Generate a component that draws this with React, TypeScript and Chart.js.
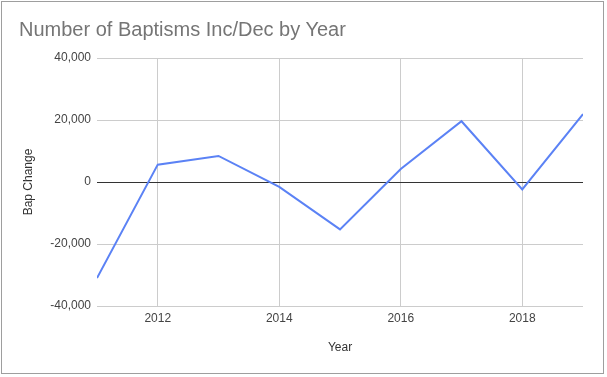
import React, { useEffect, useRef } from "react";
import { Chart, registerables } from "chart.js";

Chart.register(...registerables);

const years = [2011, 2012, 2013, 2014, 2015, 2016, 2017, 2018, 2019];
const bapChange = [-31000, 5600, 8400, -1600, -15300, 4200, 19600, -2400, 21900];
const xTicks = [2012, 2014, 2016, 2018];
const yTicks = [-40000, -20000, 0, 20000, 40000];

const FONT = "'Liberation Sans', Arial, sans-serif";

export default function App() {
  const ref = useRef<HTMLCanvasElement | null>(null);

  useEffect(() => {
    if (!ref.current) return;
    const chart = new Chart(ref.current, {
      type: "line",
      data: {
        datasets: [
          {
            label: "Bap Change",
            data: years.map((y, i) => ({ x: y, y: bapChange[i] })),
            borderColor: "#5b82f5",
            backgroundColor: "#5b82f5",
            borderWidth: 2,
            pointRadius: 0,
            tension: 0,
          },
        ],
      },
      options: {
        animation: false,
        responsive: false,
        maintainAspectRatio: false,
        layout: { padding: { left: 0, top: 58, right: 24, bottom: 0 } },
        plugins: {
          legend: { display: false },
          tooltip: { enabled: false },
          title: { display: false },
        },
        scales: {
          x: {
            type: "linear",
            min: 2011,
            max: 2019,
            afterBuildTicks: (scale: any) => {
              scale.ticks = xTicks.map((v) => ({ value: v }));
            },
            afterFit: (scale: any) => {
              scale.height = 71;
            },
            grid: { color: "#cccccc", drawTicks: false },
            border: { display: false },
            ticks: {
              padding: 5,
              color: "#444444",
              font: { family: FONT, size: 12 },
              callback: (v: any) => String(v),
              maxRotation: 0,
            },
            title: {
              display: true,
              text: "Year",
              color: "#333333",
              font: { family: FONT, size: 12 },
              padding: { top: 4, bottom: 22 },
            },
          },
          y: {
            type: "linear",
            min: -40000,
            max: 40000,
            afterBuildTicks: (scale: any) => {
              scale.ticks = yTicks.map((v) => ({ value: v }));
            },
            afterFit: (scale: any) => {
              scale.width = 97;
            },
            grid: {
              color: (ctx: any) => (ctx.tick && ctx.tick.value === 0 ? "#333333" : "#cccccc"),
              drawTicks: false,
            },
            border: { display: false },
            ticks: {
              padding: 6,
              color: "#444444",
              font: { family: FONT, size: 12 },
              callback: (v: any) => Number(v).toLocaleString("en-US"),
            },
            title: {
              display: true,
              text: "Bap Change",
              color: "#333333",
              font: { family: FONT, size: 12 },
              padding: { top: 21, bottom: 4 },
            },
          },
        },
      },
    });
    return () => chart.destroy();
  }, []);

  return (
    <div
      style={{
        position: "fixed",
        left: 0,
        top: 0,
        width: 607,
        height: 377,
        background: "#ffffff",
        overflow: "hidden",
      }}
    >
      <canvas ref={ref} width={607} height={377} style={{ position: "absolute", left: 0, top: 0 }} />
      <div
        style={{
          position: "absolute",
          left: 19,
          top: 17,
          fontFamily: FONT,
          fontSize: 20,
          color: "#757575",
          whiteSpace: "nowrap",
          lineHeight: "24px",
        }}
      >
        Number of Baptisms Inc/Dec by Year
      </div>
      <div
        style={{
          position: "absolute",
          left: 1,
          top: 1,
          width: 601,
          height: 371,
          border: "1px solid #9e9e9e",
          pointerEvents: "none",
        }}
      />
    </div>
  );
}
